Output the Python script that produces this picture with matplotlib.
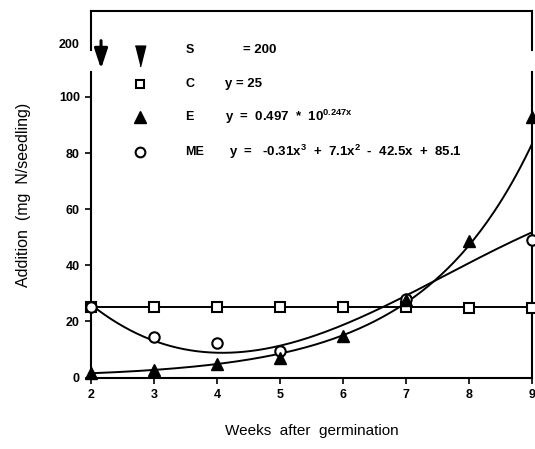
"""Nitrogen addition per seedling vs weeks after germination."""

import matplotlib.pyplot as plt
import numpy as np

plt.rcParams["font.family"] = ["Liberation Sans", "DejaVu Sans"]
plt.rcParams["mathtext.fontset"] = "custom"
plt.rcParams["mathtext.rm"] = "Liberation Sans"
plt.rcParams["mathtext.it"] = "Liberation Sans"
plt.rcParams["mathtext.bf"] = "Liberation Sans:bold"

weeks = [2, 3, 4, 5, 6, 7, 8, 9]
c_values = [25.3, 25.2, 25.2, 25.0, 25.0, 25.0, 24.8, 24.8]
e_values = [1.8, 2.7, 4.9, 7.0, 14.8, 27.6, 48.8, 93.0]
me_weeks = [2, 3, 4, 5, 7, 9]
me_values = [25.3, 14.6, 12.5, 9.6, 28.0, 49.0]

# fitted equations printed in the legend
c_fit = 25
e_fit = (0.497, 0.247)  # y = a * 10^(b x)
me_fit = [-0.31, 7.1, -42.5, 85.1]  # cubic coefficients

y_ticks = [0, 20, 40, 60, 80, 100]
break_pos = 119  # where the "200" label sits above the axis break

fig = plt.figure(figsize=(5.35, 4.49), dpi=100)
ax = fig.add_axes([0.170, 0.159, 0.824, 0.816])
ax.set_xlim(2, 9)
ax.set_ylim(0, 130.5)

xs = np.linspace(2, 9, 200)
ax.plot([2, 9], [c_fit, c_fit], color="black", lw=1.4)
ax.plot(xs, e_fit[0] * 10 ** (e_fit[1] * xs), color="black", lw=1.4)
ax.plot(xs, np.polyval(me_fit, xs), color="black", lw=1.4)

ax.plot(weeks, c_values, "s", ms=6.5, mfc="white", mec="black", mew=1.5, clip_on=False, zorder=3)
ax.plot(weeks, e_values, "^", ms=8, color="black", clip_on=False, zorder=4)
ax.plot(me_weeks, me_values, "o", ms=7.5, mfc="white", mec="black", mew=1.5, clip_on=False, zorder=3)

# broken left/right spines
for side in ["left", "right"]:
    ax.spines[side].set_visible(False)
for xpos in [2, 9]:
    ax.axvline(xpos, ymin=0, ymax=108.8 / 130.5, color="black", lw=1.5, clip_on=False)
    ax.axvline(xpos, ymin=116.6 / 130.5, ymax=1, color="black", lw=1.5, clip_on=False)
ax.spines["top"].set_linewidth(1.5)
ax.spines["bottom"].set_linewidth(1.5)

ax.set_yticks(y_ticks + [break_pos])
ax.set_yticklabels([str(v) for v in y_ticks] + ["200"], fontsize=9, fontweight="bold")
ax.set_xticks(weeks)
ax.set_xticklabels([str(w) for w in weeks], fontsize=9, fontweight="bold")
ax.tick_params(axis="both", direction="out", length=4, width=1.2, pad=4)
ax.yaxis.get_major_ticks()[-1].tick1line.set_visible(False)

ax.set_xlabel("Weeks  after  germination", fontsize=11, labelpad=17)
ax.set_ylabel("Addition  (mg  N/seedling)", fontsize=11.5, labelpad=20)

# legend block
ax.annotate("", xy=(2.16, 109.0), xytext=(2.16, 121.0),
            arrowprops=dict(arrowstyle="-|>,head_width=0.4,head_length=1.2", color="black", lw=2.2))
ax.plot([2.78], [114.5], marker=[(-0.5, 1), (0.5, 1), (0, -1)], ms=15, color="black")

rows = [116.6, 104.6, 92.8, 80.4]
ax.plot([2.78], [rows[1]], "s", ms=6, mfc="white", mec="black", mew=1.5)
ax.plot([2.78], [rows[2]], "^", ms=8, color="black")
ax.plot([2.78], [rows[3]], "o", ms=7, mfc="white", mec="black", mew=1.5)

labels = ["S", "C", "E", "ME"]
equations = [
    "= 200",
    "y = 25",
    r"y  =  0.497  *  10$^{\mathbf{0.247x}}$",
    r"y  =   -0.31x$^{\mathbf{3}}$  +  7.1x$^{\mathbf{2}}$  -  42.5x  +  85.1",
]
eq_x = [4.42, 4.13, 4.13, 4.2]
for y, lab, eq, ex in zip(rows, labels, equations, eq_x):
    ax.text(3.5, y, lab, fontsize=9, fontweight="bold", va="center")
    ax.text(ex, y, eq, fontsize=9.5, fontweight="bold", va="center")

fig.savefig("out.png", dpi=100)
plt.close(fig)
